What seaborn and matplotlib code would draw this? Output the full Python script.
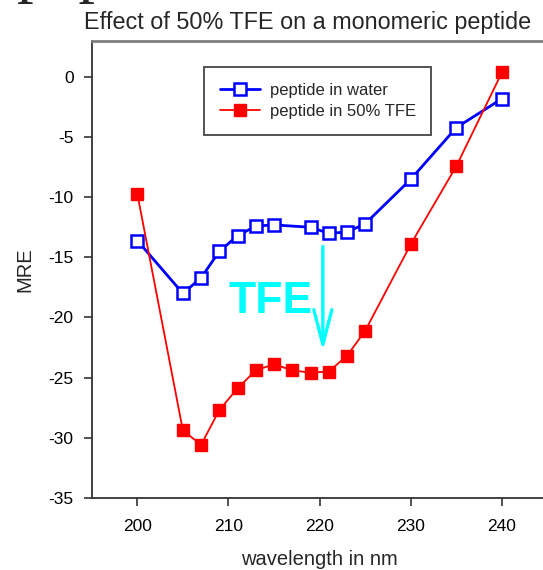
import numpy as np
import pandas as pd
import matplotlib
matplotlib.use("Agg")
import matplotlib.pyplot as plt
import seaborn as sns

# ---- data ----
water_wl = [200, 205, 207, 209, 211, 213, 215, 219, 221, 223, 225, 230, 235, 240]
water_mre = [-13.6, -18.0, -16.7, -14.5, -13.2, -12.4, -12.3, -12.5, -13.0, -12.9, -12.2, -8.5, -4.2, -1.8]
tfe_wl = [200, 205, 207, 209, 211, 213, 215, 217, 219, 221, 223, 225, 230, 235, 240]
tfe_mre = [-9.7, -29.4, -30.6, -27.7, -25.9, -24.4, -23.9, -24.4, -24.6, -24.5, -23.2, -21.1, -13.9, -7.4, 0.4]
water_label = "peptide in water"
tfe_label = "peptide in 50% TFE"
x_ticks = [200, 210, 220, 230, 240]
y_ticks = [0, -5, -10, -15, -20, -25, -30, -35]
title = "Effect of 50% TFE on a monomeric peptide"
x_label = "wavelength in nm"
y_label = "MRE"

sns.set_style("ticks")
plt.rcParams["font.family"] = ["Liberation Sans", "DejaVu Sans"]

W, H = 543, 570
fig = plt.figure(figsize=(W / 100, H / 100), dpi=100)
ax_left, ax_right = 91.7, 547.6
ax_top, ax_bottom = 41.0, 497.7
ax = fig.add_axes([ax_left / W, 1 - ax_bottom / H, (ax_right - ax_left) / W, (ax_bottom - ax_top) / H])

water_df = pd.DataFrame({"wl": water_wl, "mre": water_mre})
tfe_df = pd.DataFrame({"wl": tfe_wl, "mre": tfe_mre})

sns.lineplot(data=water_df, x="wl", y="mre", ax=ax, color="#0000ff", lw=2.0,
             marker="s", markersize=8.5, markerfacecolor="white", markeredgecolor="#0000ff",
             markeredgewidth=1.8, label=water_label, zorder=3)
sns.lineplot(data=tfe_df, x="wl", y="mre", ax=ax, color="#ff0000", lw=1.3,
             marker="s", markersize=8.5, markerfacecolor="#ff0000", markeredgecolor="#ff0000",
             markeredgewidth=1.0, label=tfe_label, zorder=4)

ax.set_xlim(195, 245)
ax.set_ylim(-35, 3)
ax.set_xticks(x_ticks)
ax.set_yticks(y_ticks)
ax.set_xticklabels([str(v) for v in x_ticks])
ax.set_yticklabels([str(v) for v in y_ticks])
ax.tick_params(axis="both", direction="out", length=6, width=1.2, color="#333333",
               labelsize=12.5, labelcolor="black")
ax.tick_params(axis="x", pad=9)
ax.tick_params(axis="y", pad=7)

for side in ["left", "bottom"]:
    ax.spines[side].set_color("#333333")
    ax.spines[side].set_linewidth(1.3)
ax.spines["top"].set_visible(True)
ax.spines["top"].set_color("#7f7f7f")
ax.spines["top"].set_linewidth(2.0)
ax.spines["right"].set_visible(False)

ax.set_xlabel(x_label, fontsize=14.5)
ax.set_ylabel(y_label, fontsize=14.5)
ax.xaxis.set_label_coords(0.5, -0.1155)
ax.yaxis.set_label_coords(-0.125, 0.5)

fig.text(308 / W, 1 - 29.4 / H, title, fontsize=16.8, ha="center", va="baseline")
fig.text(17 / W, 1 + 10.3 / H, "peptide", fontsize=47.5, ha="left", va="baseline",
         family=["Liberation Serif", "DejaVu Serif"])

ax.text(210.0, -19.6, "TFE", fontsize=32, fontweight="bold", color="#00ffff",
        ha="left", va="baseline", zorder=5)
ax.annotate("", xy=(220.35, -22.8), xytext=(220.35, -14.1),
            arrowprops=dict(arrowstyle="->,head_length=2.5,head_width=0.65",
                            color="#00ffff", lw=2.4, mutation_scale=10,
                            shrinkA=0, shrinkB=0), zorder=5)

leg = ax.legend(loc="upper left", bbox_to_anchor=(204 / W, 1 - 67 / H),
                bbox_transform=fig.transFigure, borderaxespad=0, fontsize=12,
                frameon=True, fancybox=False, framealpha=1, edgecolor="#444444",
                handlelength=2.4, handletextpad=0.6, borderpad=0.93, labelspacing=0.4,
                numpoints=1)
leg.get_frame().set_linewidth(1.3)

fig.savefig("out.png", dpi=100)
